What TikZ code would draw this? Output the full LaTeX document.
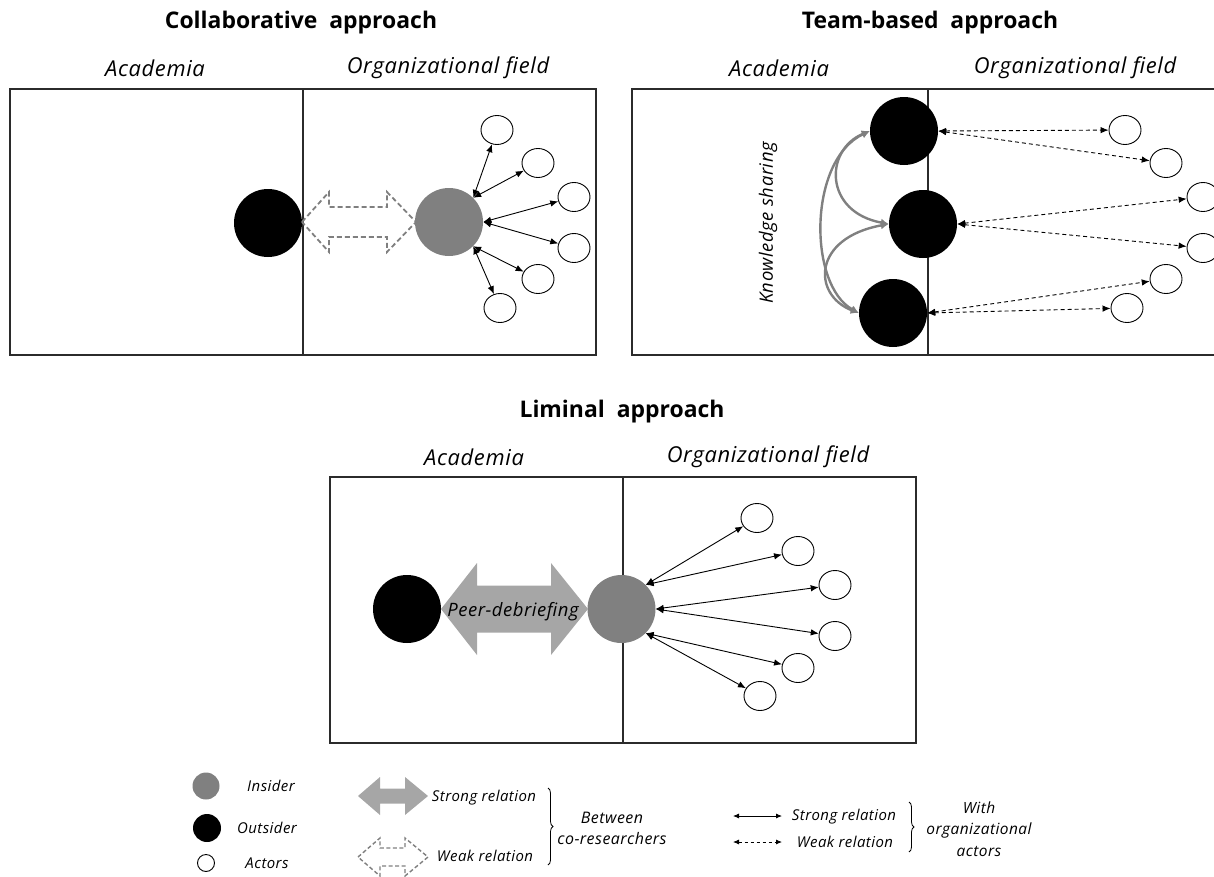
\documentclass[tikz,border=0pt]{standalone}
\usepackage{fontspec}
\setmainfont{Open Sans}
\newfontfamily\itfont[LetterSpace=3]{Open Sans}
\usetikzlibrary{arrows.meta,shapes.geometric,decorations.pathreplacing}

\definecolor{insgrey}{HTML}{808080}
\definecolor{lightarrow}{HTML}{A6A6A6}
\definecolor{dasharrow}{HTML}{7F7F7F}
\definecolor{framecol}{HTML}{2B2B2B}

\begin{document}
\begin{tikzpicture}[x=1bp,y=-1bp,
  title/.style={font=\fontsize{23}{26}\selectfont\bfseries},
  area/.style={font=\itfont\fontsize{22}{25}\selectfont\itshape},
  label/.style={font=\itfont\fontsize{18.5}{21}\selectfont\itshape},
  legend/.style={font=\itfont\fontsize{15}{21}\selectfont\itshape, align=center},
  frame/.style={draw=framecol, line width=1.2bp},
  outsider/.style={circle, fill=black, minimum size=68bp, inner sep=0pt},
  insider/.style={circle, fill=insgrey, minimum size=68bp, inner sep=0pt},
  actor/.style={ellipse, draw, fill=white, line width=0.9bp, minimum width=32bp, minimum height=29bp, inner sep=0pt},
  strong/.style={{Latex[length=8bp,width=6.5bp]}-{Latex[length=8bp,width=6.5bp]}, line width=0.9bp},
  weak/.style={strong, dash pattern=on 4bp off 3bp},
  share/.style={draw=insgrey, line width=2.4bp, {Latex[length=8bp,width=8bp]}-{Latex[length=8bp,width=8bp]}},
  fatdash/.style={draw=dasharrow, line width=1.8bp, dash pattern=on 5bp off 3bp, line join=miter},
  fatsolid/.style={fill=lightarrow},
  legbrace/.style={decorate, decoration={brace, amplitude=5bp}, line width=0.8bp}
]
\useasboundingbox (0,0) rectangle (1214,877);
\clip (0,0) rectangle (1214,877);

% ---------------- Collaborative approach ----------------
\node[title] (c-title) at (301,23) {Collaborative\ \ approach};
\node[area] (c-acad) at (155,68) {Academia};
\node[area] (c-org) at (448,68) {Organizational field};
\draw[frame] (10,89) rectangle (596,355);
\draw[frame] (303,89) -- (303,355);

\node[outsider] (c-out) at (268,223) {};
\node[insider] (c-in) at (449,222) {};

% hollow dashed double arrow between the co-researchers
\draw[fatdash] (302,222) -- (329,192) -- (329,207) -- (387,207) -- (387,192)
  -- (416,222) -- (387,252) -- (387,237) -- (329,237) -- (329,252) -- cycle;

\foreach \i/\p in {1/{(497,130)},2/{(538,163)},3/{(574,197)},4/{(574,248)},5/{(538,279)},6/{(500,308)}}
  \node[actor] (c-a\i) at \p {};
\draw[strong] (c-in.45) -- (c-a1);
\draw[strong] (c-in.45) -- (c-a2);
\draw[strong] (c-in.0) -- (c-a3);
\draw[strong] (c-in.0) -- (c-a4);
\draw[strong] (c-in.-45) -- (c-a5);
\draw[strong] (c-in.-45) -- (c-a6);

% ---------------- Team-based approach ----------------
\node[title] (t-title) at (930,23) {Team-based\ \ approach};
\node[area] (t-acad) at (779,68) {Academia};
\node[area] (t-org) at (1075,68) {Organizational field};
\draw[frame] (632,89) rectangle (1240,355);
\draw[frame] (928,89) -- (928,355);

\node[outsider] (t-o1) at (904,131) {};
\node[outsider] (t-o2) at (923,224) {};
\node[outsider] (t-o3) at (893,313) {};

\foreach \i/\p in {1/{(1125,130)},2/{(1166,163)},3/{(1203,197)},4/{(1203,248)},5/{(1166,279)},6/{(1127,308)}}
  \node[actor] (t-a\i) at \p {};
\draw[weak] (t-o1.east) -- (t-a1);
\draw[weak] (t-o1.east) -- (t-a2);
\draw[weak] (t-o2.east) -- (t-a3);
\draw[weak] (t-o2.east) -- (t-a4);
\draw[weak] (t-o3.east) -- (t-a5);
\draw[weak] (t-o3.east) -- (t-a6);

% knowledge sharing among the team
\draw[share] (t-o1.west) .. controls (824,150) and (824,212) .. (t-o2.west);
\draw[share] (t-o3.west) .. controls (812,295) and (812,238) .. (t-o2.west);
\draw[share] (t-o1.west) .. controls (808,160) and (808,285) .. (t-o3.west);
\node[label, rotate=90] (t-ks) at (768,223) {Knowledge sharing};

% ---------------- Liminal approach ----------------
\node[title] (l-title) at (622,412) {Liminal\ \ approach};
\node[area] (l-acad) at (474,457) {Academia};
\node[area] (l-org) at (768,457) {Organizational field};
\draw[frame] (330,477) rectangle (916,743);
\draw[frame] (623,477) -- (623,743);

\node[outsider] (l-out) at (407,609) {};
\node[insider] (l-in) at (621.5,609) {};

% solid double arrow between the co-researchers
\fill[fatsolid] (441,609) -- (477,563) -- (477,585.5) -- (551,585.5) -- (551,563)
  -- (588,609) -- (551,655) -- (551,632.5) -- (477,632.5) -- (477,655) -- cycle;
\node[label] (l-peer) at (513,612) {Peer-debriefing};

\foreach \i/\p in {1/{(757,518)},2/{(798,551)},3/{(835,585)},4/{(835,636)},5/{(798,668)},6/{(760,696)}}
  \node[actor] (l-a\i) at \p {};
\draw[strong] (l-in.45) -- (l-a1);
\draw[strong] (l-in.45) -- (l-a2);
\draw[strong] (l-in.0) -- (l-a3);
\draw[strong] (l-in.0) -- (l-a4);
\draw[strong] (l-in.-45) -- (l-a5);
\draw[strong] (l-in.-45) -- (l-a6);

% ---------------- Legend ----------------
\node[insider, minimum size=27bp] (k-in) at (206,786) {};
\node[legend] (k-in-t) at (271,786) {Insider};
\node[outsider, minimum size=28bp] (k-out) at (207,828) {};
\node[legend] (k-out-t) at (267,828) {Outsider};
\node[actor, minimum width=17bp, minimum height=17bp] (k-act) at (206,863) {};
\node[legend] (k-act-t) at (267,863) {Actors};

\fill[fatsolid] (358,796) -- (380,777) -- (380,788.5) -- (405,788.5) -- (405,777)
  -- (428,796) -- (405,815) -- (405,803.5) -- (380,803.5) -- (380,815) -- cycle;
\node[legend] (k-sr) at (484,798) {Strong relation};
\draw[fatdash, line width=1.4bp, dash pattern=on 4bp off 2.5bp] (358,857) -- (380,838) -- (380,848) -- (405,848) -- (405,838)
  -- (428,857) -- (405,876) -- (405,866) -- (380,866) -- (380,876) -- cycle;
\node[legend] (k-wr) at (485,856) {Weak relation};
\draw[legbrace] (548,788) -- (548,865);
\node[legend, font=\itfont\fontsize{16}{21}\selectfont\itshape] (k-co) at (612,828) {Between\\co-researchers};

\coordinate (k-s1) at (733,816);
\coordinate (k-s2) at (782,816);
\coordinate (k-w1) at (733,842);
\coordinate (k-w2) at (782,842);
\draw[strong, line width=0.8bp, {Latex[length=6bp,width=5bp]}-{Latex[length=6bp,width=5bp]}] (k-s1) -- (k-s2);
\draw[weak, line width=0.8bp, dash pattern=on 3bp off 3bp, {Latex[length=6bp,width=5bp]}-{Latex[length=6bp,width=5bp]}] (k-w1) -- (k-w2);
\node[legend] (k-sr2) at (844,817) {Strong relation};
\node[legend] (k-wr2) at (845,842) {Weak relation};
\draw[legbrace] (909,802) -- (909,852);
\node[legend, font=\itfont\fontsize{15.5}{21.5}\selectfont\itshape] (k-org) at (979,829) {With\\organizational\\actors};
\end{tikzpicture}
\end{document}
